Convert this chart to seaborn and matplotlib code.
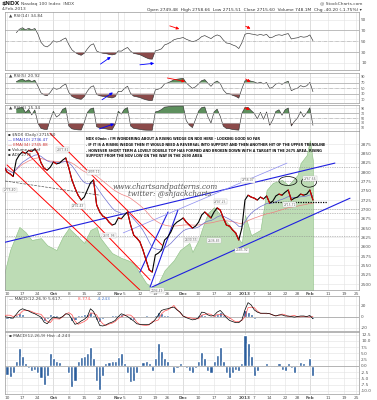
import numpy as np
import pandas as pd
import matplotlib
matplotlib.use("Agg")
import matplotlib.pyplot as plt
import seaborn as sns
from matplotlib.patches import Ellipse

# ---- data ----
holidays = ["2012-10-29", "2012-10-30", "2012-11-22", "2012-12-25",
            "2013-01-01", "2013-01-21", "2013-02-18"]

close = [2815, 2800, 2795, 2788, 2832, 2846, 2854, 2850, 2858, 2855,
         2862, 2850, 2825, 2810, 2805, 2813, 2827, 2822, 2824, 2832,
         2838, 2811, 2779, 2757, 2738, 2725, 2733, 2752, 2771, 2779,
         2712, 2693, 2682, 2677, 2666, 2658, 2661, 2677, 2675, 2685,
         2693, 2658, 2631, 2623, 2613, 2591, 2564, 2538, 2532, 2578,
         2583, 2591, 2618, 2626, 2639, 2658, 2666, 2671, 2677, 2666,
         2658, 2650, 2655, 2666, 2685, 2693, 2685, 2677, 2693, 2704,
         2698, 2677, 2658, 2655, 2645, 2637, 2618, 2650, 2725, 2738,
         2733, 2730, 2725, 2733, 2728, 2736, 2717, 2722, 2736, 2741,
         2738, 2746, 2752, 2725, 2730, 2733, 2741, 2738, 2741, 2752,
         2725]

# green underlay (sampled trading-day index, level on price scale)
under_idx = [0, 2, 5, 7, 9, 12, 14, 17, 19, 21, 24, 26, 28, 30, 31, 33, 35,
             38, 40, 42, 44, 46, 48, 50, 52, 55, 57, 60, 61, 63, 64, 66, 68,
             70, 73, 75, 77, 78, 80, 83, 85, 87, 90, 92, 95, 96, 98, 99, 100]
under_val = [2524, 2591, 2653, 2639, 2618, 2623, 2604, 2591, 2626, 2650, 2626,
             2610, 2645, 2653, 2626, 2604, 2583, 2570, 2564, 2556, 2529, 2503,
             2490, 2503, 2537, 2564, 2591, 2610, 2586, 2618, 2645, 2690, 2706,
             2685, 2658, 2631, 2610, 2685, 2631, 2645, 2752, 2771, 2779, 2765,
             2792, 2824, 2846, 2885, 2830]

macd_line = [0, -1, -2, -3, 4, 11, 14, 12, 10, 7, 5, 2, -1, -10, -13, -6, -1,
             -2, -3, 0, 5, 4, -5, -14, -12, -8, -5, 0, 14, 9, -3, -16, -17,
             -15, -12, -10, -7, 0, 5, 3, 0, -4, -8, -13, -14, -14, -14, -14,
             -11, -5, 3, 11, 13, 14, 16, 17, 12, 8, 1, -2, -4, -6, -5, -2, 8,
             7, 3, 1, 2, 8, 11, 5, -2, -7, -9, -11, -11, -6, 12, 25, 21, 12,
             8, 6, 6, 6, 5, 3, 1, 3, 3, 1, 1, 0, -1, 0, 1, 1, 0, 2, -4]

macd_hist = [-2, -3.5, -4.4, -3, 2, 7, 4, 1, -1, -2, -1.5, -3, -5, -7.5, -4,
             5, 3, 2, 1.5, 0.5, 0.5, -3, -8.5, -6, 2, 3.5, 4, 5, 7.5, 3, -6,
             -9.5, -4, 1, 1.5, 2, 2, 3.5, 5, 1, -3, -6.5, -6, -3, 0.5, 1.5, 2,
             1, -2, 3, 9, 6, 3, 2, 0.5, -3, -1, 1, 0.5, -1, -2, -3, -1, 2,
             5.5, 3, -2, -3, 2, 4.5, 7.5, 2, -3, -5, -3, -1.5, -2, 1, 12.5, 9,
             4, -4, -2, 0, 0.5, 1, -0.5, 0.5, -0.5, 1, -1.5, -2, 1, -1, -3,
             0.5, 1.5, 1, 0.5, 3, -4.2]

tick_dates = ["2012-09-10", "2012-09-17", "2012-09-24", "2012-10-01",
              "2012-10-08", "2012-10-15", "2012-10-22", "2012-11-01",
              "2012-11-05", "2012-11-12", "2012-11-19", "2012-11-26",
              "2012-12-03", "2012-12-10", "2012-12-17", "2012-12-24",
              "2013-01-02", "2013-01-07", "2013-01-14", "2013-01-22",
              "2013-01-28", "2013-02-01", "2013-02-11", "2013-02-19",
              "2013-02-25"]
tick_labels = ["10", "17", "24", "Oct", "8", "15", "22", "Nov", "5", "12", "19",
               "26", "Dec", "10", "17", "24", "2013", "7", "14", "22", "28",
               "Feb", "11", "19", "25"]
month_labels = {"Oct", "Nov", "Dec", "2013", "Feb"}

# hand drawn lines on the chart: (index, level) start -> end
red_lines = [((14.9, 2904), (51.2, 2604)),
             ((7.5, 2851), (47.3, 2511)),
             ((1.0, 2819), (44.0, 2484))]
blue_lines = [((0.4, 2612), (107.1, 2824)),
              ((47.9, 2492), (112.0, 2730)),
              ((47.3, 2492), (56.3, 2698)),
              ((44.0, 2532), (53.1, 2693))]
light_blue_lines = [((38.6, 2637), (91.6, 2824))]
dash_lines = [((0.4, 2776), (31.1, 2738))]
level_lines = [2813, 2776, 2701, 2690, 2629]
double_top = [(91.9, 2776, 5.8, 24), (98.7, 2773, 4.9, 27)]
neckline = (86.1, 104.6, 2720)

# pivot price tags (index, level, text)
pivot_tags = [(2.0, 2752, "2775.40"), (19.0, 2860, "2877.81"),
              (29.0, 2800, "2805.11"), (24.0, 2708, "2731.43"),
              (34.0, 2630, "2631.96"), (49.5, 2482, "2494.49"),
              (70.0, 2720, "2707.25"), (60.5, 2618, "2630.55"),
              (68.0, 2616, "2636.83"), (77.0, 2590, "2585.92"),
              (79.0, 2778, "2756.07"), (92.5, 2712, "2715.71"),
              (99.0, 2782, "2767.66")]

rsi1_arrows = [((52.8, 80), (57.6, 71), "red"), ((77.4, 80), (80.6, 71), "red"),
               ((30.5, 5), (35.3, 24), "blue"), ((43.1, 6), (49.5, 10), "blue")]
rsi2_arrows = [((52.0, 88), (59.5, 72), "red"), ((77.5, 88), (80.5, 66), "red"),
               ((31.0, 3), (36.0, 40), "blue")]
rsi3_arrows = [((77.0, 95), (80.5, 82), "red"), ((30.0, 2), (36.5, 30), "blue")]

note = ("NDX 60min : I'M WONDERING ABOUT A RISING WEDGE ON NDX HERE - LOOKING GOOD SO FAR\n"
        ". IF IT IS A RISING WEDGE THEN IT WOULD NEED A REVERSAL INTO SUPPORT AND THEN ANOTHER HIT OF THE UPPER TRENDLINE\n"
        ". HOWEVER SHORT TERM A LOVELY DOUBLE TOP HAS FORMED AND BROKEN DOWN WITH A TARGET IN THE 2675 AREA. RISING\n"
        "SUPPORT FROM THE NOV LOW ON THE WAY IN THE 2690 AREA")

# ---- derived series ----
days = pd.bdate_range("2012-09-07", "2013-02-27")
days = days[~days.isin(pd.to_datetime(holidays))]
px = pd.Series(close, dtype=float)
idx = np.arange(len(px))
tick_pos = [days.get_loc(pd.Timestamp(d)) for d in tick_dates]


def rsi(s, n):
    d = s.diff()
    up = d.clip(lower=0).ewm(alpha=1 / n, adjust=True).mean()
    dn = (-d.clip(upper=0)).ewm(alpha=1 / n, adjust=True).mean()
    r = 100 - 100 / (1 + up / dn)
    # warm-up: no value until both an up and a down day have been seen
    seen = (d > 0).cummax() & (d < 0).cummax()
    return r.where(seen)


ema_fast = px.ewm(span=10).mean()
ema_slow = px.ewm(span=34).mean()
hist = np.array(macd_hist)
signal = np.array(macd_line) - hist

# ---- figure ----
sns.set_theme(style="white")
plt.rcParams["font.family"] = ["DejaVu Sans"]
W, H = 377, 400
fig = plt.figure(figsize=(W / 100, H / 100), dpi=100)
X0, X1 = 0.35, 114.9
FS = 3.1
GRID = "#e2e2e2"


def panel(top, bottom):
    return fig.add_axes([5 / W, 1 - bottom / H, 354 / W, (bottom - top) / H])


def style(ax, yticks, ylabels, ylim, xlabels=False, yfs=FS):
    ax.set_xlim(X0, X1)
    ax.set_ylim(*ylim)
    ax.yaxis.tick_right()
    ax.set_yticks(yticks)
    ax.set_yticklabels(ylabels, fontsize=yfs, color="#555555")
    ax.tick_params(axis="both", length=0, pad=1.5)
    ax.set_xticks(tick_pos)
    if xlabels:
        ax.set_xticklabels(tick_labels, fontsize=FS, color="#555555")
        for t in ax.get_xticklabels():
            if t.get_text() in month_labels:
                t.set_fontweight("bold")
    else:
        ax.set_xticklabels([])
    ax.grid(True, color=GRID, lw=0.4)
    for t, lab in zip(tick_pos, tick_labels):
        if lab in month_labels:
            ax.axvline(t, color="#c8c8c8", lw=0.5, zorder=0)
    for s in ax.spines.values():
        s.set_color("#999999")
        s.set_linewidth(0.5)
    ax.set_xlabel("")
    ax.set_ylabel("")


def arrows(ax, items):
    for (a, b, col) in items:
        ax.annotate("", xy=b, xytext=a,
                    arrowprops=dict(arrowstyle="-|>", color=col, lw=0.6,
                                    mutation_scale=4))


def rsi_panel(top, bottom, n, label, yfs):
    ax = panel(top, bottom)
    r = rsi(px, n).values
    ax.fill_between(idx, 70, r, where=r > 70, color="#5d8f5d",
                    interpolate=True, lw=0)
    ax.fill_between(idx, 30, r, where=r < 30, color="#8b4a4a",
                    interpolate=True, lw=0)
    sns.lineplot(x=idx, y=r, ax=ax, color="#333333", lw=0.45)
    for lv in (30, 70):
        ax.axhline(lv, color="#aaaaaa", lw=0.5)
    ax.axhline(50, color="#aaaaaa", lw=0.4, ls="-.")
    style(ax, [10, 30, 50, 70, 90], ["10", "30", "50", "70", "90"], (-3, 104),
          yfs=yfs)
    ax.text(0.012, 0.97, label, transform=ax.transAxes, fontsize=FS,
            va="top", color="#444444")
    return ax


ax1 = rsi_panel(12, 70, 14, "\u25b2 RSI(14) 34.84", FS)
arrows(ax1, rsi1_arrows)
ax2 = rsi_panel(73, 103, 5, "\u25b2 RSI(5) 20.92", 2.5)
arrows(ax2, rsi2_arrows)
ax3 = rsi_panel(105, 131, 2, "\u25b2 RSI(2) 15.34", 2.3)
arrows(ax3, rsi3_arrows)

# main price panel
ax = panel(131, 290)
ax.fill_between(under_idx, 2400, under_val, color="#bddcb5", lw=0.4,
                edgecolor="#8cbf82", zorder=1)
for lv in level_lines:
    ax.axhline(lv, color="#888888", lw=0.5, ls=(0, (1, 1.5)), zorder=2)
for (a, b) in red_lines:
    ax.plot([a[0], b[0]], [a[1], b[1]], color="red", lw=0.7, zorder=3)
for (a, b) in blue_lines:
    ax.plot([a[0], b[0]], [a[1], b[1]], color="#1f1fe0", lw=0.8, zorder=3)
for (a, b) in light_blue_lines:
    ax.plot([a[0], b[0]], [a[1], b[1]], color="#8c8cf0", lw=0.5, zorder=3)
for (a, b) in dash_lines:
    ax.plot([a[0], b[0]], [a[1], b[1]], color="#555555", lw=0.5, ls="--",
            zorder=3)
sns.lineplot(x=idx, y=ema_slow.values, ax=ax, color="#f08080", lw=0.5, zorder=4)
sns.lineplot(x=idx, y=ema_fast.values, ax=ax, color="#6f6fd0", lw=0.5, zorder=4)
sns.lineplot(x=idx, y=px.values, ax=ax, color="black", lw=0.8, zorder=5)
for i in range(1, len(px)):
    if px[i] < px[i - 1]:
        ax.plot([i - 1, i], [px[i - 1], px[i]], color="#e00000", lw=0.8, zorder=6)
for (cx, cy, w, h) in double_top:
    ax.add_patch(Ellipse((cx, cy), w, h, fill=False, ec="black", lw=0.5, zorder=7))
ax.plot([neckline[0], neckline[1]], [neckline[2], neckline[2]], color="black",
        lw=0.9, ls=(0, (1, 1)), zorder=7)
for (xi, yv, t) in pivot_tags:
    ax.text(xi, yv, t, fontsize=2.2, color="#666666", ha="center", va="center",
            zorder=8, bbox=dict(boxstyle="square,pad=0.15", fc="white",
                                ec="#bbbbbb", lw=0.3))
style(ax, list(range(2500, 2876, 25)), [str(v) for v in range(2500, 2876, 25)],
      (2484, 2910), xlabels=True)

legend_lines = [("\u25aa $NDX (Daily) 2715.60", "#333333"),
                ("\u2014 EMA(10) 2736.47", "#3333cc"),
                ("\u2014 EMA(34) 2745.88", "#d03030"),
                ("\u25aa Volume undef", "#333333"),
                ("\u25aa ADL 2776", "#333333")]
for k, (t, c) in enumerate(legend_lines):
    fig.text(8 / W, 1 - (135 + 5 * k) / H, t, fontsize=2.9, color=c, va="center")
fig.text(86 / W, 1 - 137 / H, note, fontsize=2.45, fontweight="bold",
         va="top", linespacing=1.6, color="#111111")
fig.text(113 / W, 1 - 187 / H, "www.chartsandpatterns.com", fontsize=5.2,
         family="DejaVu Serif", style="italic", color="#555555", va="center")
fig.text(128 / W, 1 - 194 / H, "twitter: @shjackcharts", fontsize=5.2,
         family="DejaVu Serif", style="italic", color="#555555", va="center")

# MACD panel
axm = panel(296, 331)
axm.bar(idx, hist, width=1.0, color="#2a5d9c", zorder=2)
sns.lineplot(x=idx, y=signal, ax=axm, color="#ff5050", lw=0.5, zorder=3)
sns.lineplot(x=idx, y=macd_line, ax=axm, color="black", lw=0.5, zorder=4)
axm.axhline(0, color="#888888", lw=0.4)
style(axm, [-20, 0, 20], ["-20", "0", "20"], (-26, 37))
axm.text(0.012, 0.96, "\u2014 MACD(12,26,9) 5.617, ", transform=axm.transAxes,
         fontsize=FS, va="top", color="#444444")
axm.text(0.205, 0.96, "8.774, ", transform=axm.transAxes, fontsize=FS, va="top",
         color="#ff5050")
axm.text(0.26, 0.96, "-4.243", transform=axm.transAxes, fontsize=FS, va="top",
         color="#4477cc")

# MACD histogram panel
axh = panel(332, 394)
axh.bar(idx, hist, width=1.0, color="#2a5d9c", zorder=2)
axh.axhline(0, color="#888888", lw=0.4)
hv = np.arange(-10, 12.6, 2.5)
style(axh, hv, ["%.1f" % v for v in hv], (-11.3, 13.6), xlabels=True)
axh.text(0.012, 0.975, "\u25aa MACD(12,26,9) Hist -4.243", transform=axh.transAxes,
         fontsize=FS, va="top", color="#444444")

# header
fig.text(2 / W, 1 - 4 / H, "$NDX", fontsize=4.2, fontweight="bold", va="center")
fig.text(21 / W, 1 - 4 / H, "Nasdaq 100 Index  INDX", fontsize=3.2, va="center",
         color="#444444")
fig.text(2 / W, 1 - 9.5 / H, "4-Feb-2013", fontsize=3.2, va="center", color="#444444")
fig.text(362 / W, 1 - 3.5 / H, "@ StockCharts.com", fontsize=3.2, va="center",
         ha="right", color="#444444")
fig.text(362 / W, 1 - 9.5 / H,
         "Open 2749.48  High 2758.66  Low 2715.51  Close 2715.60  "
         "Volume 748.1M  Chg -40.20 (-1.75%) \u25be",
         fontsize=3.2, va="center", ha="right", color="#333333")

fig.savefig("out.png", dpi=100)
